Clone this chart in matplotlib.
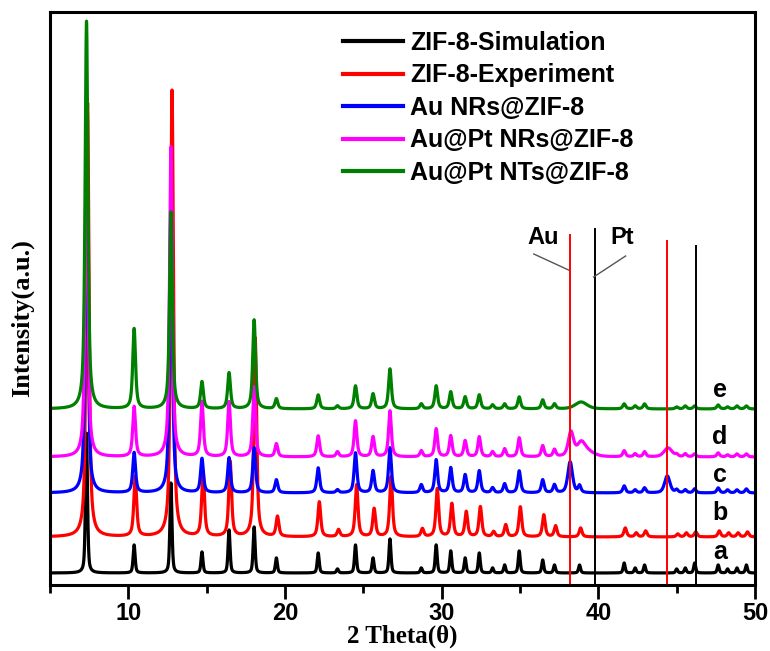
import numpy as np
import matplotlib
matplotlib.use('Agg')
import matplotlib.pyplot as plt
from matplotlib.ticker import MultipleLocator

# ZIF-8 reflections (2 theta, degrees) and peak heights above baseline (a.u.)
peak_pos = [7.33, 10.37, 12.72, 14.70, 16.43, 18.03, 19.45, 22.12, 23.35, 24.50,
            25.62, 26.70, 28.70, 29.65, 30.58, 31.50, 32.40, 33.25, 34.02, 34.95,
            36.45, 37.20, 38.80, 41.65, 42.35, 42.95, 45.00, 45.55, 46.15, 47.65,
            48.25, 48.85, 49.45]

h_sim = [140, 28, 90, 21, 43, 46, 15, 20, 4, 28,
         15, 34, 5, 28, 22, 15, 20, 5, 8, 22,
         13, 8, 8, 10, 5, 8, 4, 5, 10, 8,
         4, 5, 8]
h_exp = [434, 60, 447, 65, 75, 199, 20, 35, 7, 52,
         28, 60, 8, 48, 33, 25, 30, 5, 12, 30,
         22, 11, 9, 9, 4, 6, 3, 4, 5, 6,
         4, 4, 5]
h_aunr = [336, 40, 296, 34, 35, 45, 13, 25, 3, 40,
          22, 45, 8, 33, 25, 18, 22, 5, 9, 22,
          13, 8, 7, 7, 3, 5, 3, 3, 4, 5,
          3, 3, 4]
h_auptnr = [330, 50, 310, 55, 55, 70, 13, 21, 5, 36,
            20, 46, 6, 28, 21, 16, 20, 5, 8, 19,
            11, 7, 0, 6, 3, 5, 2, 3, 3, 4,
            2, 3, 3]
h_auptnt = [388, 80, 197, 27, 36, 89, 10, 14, 3, 23,
            15, 40, 5, 23, 17, 12, 14, 4, 5, 12,
            9, 5, 0, 5, 3, 5, 2, 3, 3, 4,
            2, 3, 3]

# small shift of the measured ZIF-8 pattern against the others
exp_shift = 0.07

# metal reflections: (2 theta, height, fwhm)
metal_aunr = [(38.20, 31, 0.35), (44.40, 17, 0.40)]
metal_auptnr = [(38.25, 24, 0.40), (38.90, 12, 0.60), (39.30, 5, 1.0), (44.45, 9, 0.60)]
metal_auptnt = [(38.90, 7, 0.90)]

labels = ['ZIF-8-Simulation', 'ZIF-8-Experiment', 'Au NRs@ZIF-8',
          'Au@Pt NRs@ZIF-8', 'Au@Pt NTs@ZIF-8']
colors = ['black', 'red', 'blue', 'magenta', 'green']
offsets = [12, 48, 92, 128, 176]
letters = ['a', 'b', 'c', 'd', 'e']
letter_y = [33, 72, 110, 148, 195]

# standard Au / Pt reflections
au_lines = [38.18, 44.39]
pt_lines = [39.76, 46.24]
au_tops = [350, 344]
pt_tops = [356, 339]


def pv(x, x0, h, w, eta=0.6):
    g = np.exp(-4 * np.log(2) * (x - x0) ** 2 / w ** 2)
    l = 1.0 / (1.0 + 4 * (x - x0) ** 2 / w ** 2)
    return h * (eta * l + (1 - eta) * g)


def pattern(x, heights, w, extra=(), shift=0.0, eta=0.6):
    y = np.zeros_like(x)
    for p, h in zip(peak_pos, heights):
        if h > 0:
            y += pv(x, p + shift, h, w, eta)
    for p, h, ww in extra:
        y += pv(x, p, h, ww, eta=0.5)
    return y


x = np.linspace(5, 50, 6000)
curves = [
    pattern(x, h_sim, 0.15, eta=0.5),
    pattern(x, h_exp, 0.21, shift=exp_shift, eta=0.7),
    pattern(x, h_aunr, 0.21, metal_aunr, eta=0.7),
    pattern(x, h_auptnr, 0.21, metal_auptnr, eta=0.7),
    pattern(x, h_auptnt, 0.21, metal_auptnt, eta=0.7),
]

fig = plt.figure(figsize=(7.7, 6.51), dpi=100)
ax = fig.add_axes([50 / 770., 66 / 651., 705 / 770., 573 / 651.])

for c, off, col, lab in zip(curves, offsets, colors, labels):
    ax.plot(x, c + off, color=col, lw=2.3, label=lab)

for xx, top in zip(au_lines, au_tops):
    ax.plot([xx, xx], [0, top], color='red', lw=1.4)
for xx, top in zip(pt_lines, pt_tops):
    ax.plot([xx, xx], [0, top], color='black', lw=1.4)

font = {'family': 'Liberation Sans', 'weight': 'bold'}
ax.text(36.45, 348, 'Au', fontsize=17, ha='center', va='center', **font)
ax.text(41.55, 348, 'Pt', fontsize=17, ha='center', va='center', **font)
ax.plot([35.88, 38.10], [331, 315], color='#555555', lw=1)
ax.plot([41.74, 39.70], [329, 308], color='#555555', lw=1)

for let, ly in zip(letters, letter_y):
    ax.text(47.75, ly, let, fontsize=18, ha='center', va='center', **font)

ax.set_xlim(5, 50)
ax.set_ylim(0, 573)
ax.xaxis.set_major_locator(MultipleLocator(10))
ax.xaxis.set_minor_locator(MultipleLocator(5))
ax.set_yticks([])
ax.tick_params(axis='x', which='major', direction='out', length=10, width=2, pad=2)
ax.tick_params(axis='x', which='minor', direction='out', length=6, width=2)
for lab in ax.get_xticklabels():
    lab.set_fontsize(17)
    lab.set_fontweight('bold')
    lab.set_family('Liberation Sans')
for sp in ax.spines.values():
    sp.set_linewidth(2.2)

ax.set_xlabel('2 Theta(\u03b8)', fontsize=18, fontweight='bold', family='Liberation Serif',
              va='bottom')
ax.set_ylabel('Intensity(a.u.)', fontsize=19, fontweight='bold', family='Liberation Serif')
ax.xaxis.set_label_coords(0.5, -0.11)
ax.yaxis.set_label_coords(-0.022, 0.466)

leg = ax.legend(loc='upper left', bbox_to_anchor=(0.4156, 0.967), frameon=False,
                borderpad=0, borderaxespad=0, handlelength=2.4, handletextpad=0.28,
                labelspacing=0.34, prop={'family': 'Liberation Sans', 'weight': 'bold', 'size': 18})
for line in leg.get_lines():
    line.set_linewidth(3)

plt.savefig('out.png', dpi=100)
